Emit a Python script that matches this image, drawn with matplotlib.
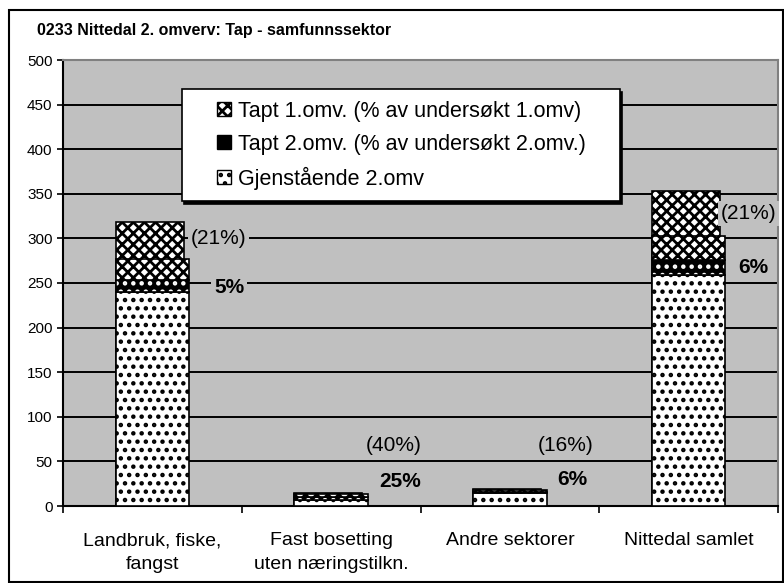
import numpy as np
import matplotlib.pyplot as plt
from matplotlib.patches import Rectangle
from matplotlib.legend_handler import HandlerPatch

# values
categories = ["Landbruk, fiske,\nfangst", "Fast bosetting\nuten næringstilkn.",
              "Andre sektorer", "Nittedal samlet"]
total_1omv = [318, 15, 19, 353]        # undersøkt 1.omv (narrow checkered bar)
gjenstaende = [240, 7, 15, 259]        # Gjenstående 2.omv
tapt2 = [13, 3, 1, 17]                 # Tapt 2.omv
tapt1_rest = [24, 3, 2, 27]            # checkered top of the 2.omv column
pct1 = ["(21%)", "(40%)", "(16%)", "(21%)"]
pct2 = ["5%", "25%", "6%", "6%"]
legend_labels = ["Tapt 1.omv. (% av undersøkt 1.omv)",
                 "Tapt 2.omv. (% av undersøkt 2.omv.)",
                 "Gjenstående 2.omv"]

# label placement (style, not data)
pct1_dx = [0.37, 0.35, 0.31, 0.335]
pct1_y = [300, 68, 68, 328]
pct2_dx = [0.43, 0.385, 0.35, 0.36]
pct2_y = [245, 27, 30, 267]

plt.rcParams['font.family'] = ['Liberation Sans', 'DejaVu Sans']
plt.rcParams['hatch.linewidth'] = 2.0
GREY = "#C0C0C0"

fig = plt.figure(figsize=(7.84, 5.83), dpi=100)
ax = fig.add_axes([63 / 784, 1 - 506 / 583, 715 / 784, 446 / 583])
ax.set_facecolor(GREY)

x = np.arange(len(categories))
left = x - 0.205

# narrow bar: whole 1.omv, checkered
ax.bar(left, total_1omv, width=0.38, align="edge", color="white",
       edgecolor="black", hatch="xxx", lw=1.2, zorder=2)

# wide stack: 2.omv
ax.bar(left, gjenstaende, width=0.41, align="edge", color="white",
       edgecolor="black", hatch="..", lw=1.2, zorder=3)
ax.bar(left, tapt2, bottom=gjenstaende, width=0.41, align="edge", color="black",
       edgecolor="white", hatch="..", lw=0, zorder=3)
ax.bar(left, tapt2, bottom=gjenstaende, width=0.41, align="edge", fill=False,
       edgecolor="black", lw=1.2, zorder=3)
b2 = np.array(gjenstaende) + np.array(tapt2)
ax.bar(left, tapt1_rest, bottom=b2, width=0.41, align="edge", color="white",
       edgecolor="black", hatch="xxx", lw=1.2, zorder=3)

for i in range(len(categories)):
    ax.text(i + pct1_dx[i], pct1_y[i], pct1[i], ha="center", va="center",
            fontsize=15, zorder=5,
            bbox=dict(facecolor=GREY, edgecolor="none", pad=2))
    ax.text(i + pct2_dx[i], pct2_y[i], pct2[i], ha="center", va="center",
            fontsize=15, fontweight="bold", zorder=5,
            bbox=dict(facecolor=GREY, edgecolor="none", pad=2))

ax.set_ylim(0, 500)
ax.set_xlim(-0.5, len(categories) - 0.5)
ax.set_yticks(np.arange(0, 501, 50))
ax.tick_params(axis="y", labelsize=11, length=4, width=1.2, direction="out")
ax.set_xticks(x)
ax.set_xticklabels(categories, fontsize=14, linespacing=1.5)
ax.tick_params(axis="x", length=0, pad=19)
ax.set_xticks(np.arange(-0.5, len(categories), 1), minor=True)
ax.tick_params(axis="x", which="minor", length=5, width=1.2, direction="out")
ax.yaxis.grid(True, color="black", lw=1.4, zorder=1)
ax.set_axisbelow(True)
for s in ["left", "bottom"]:
    ax.spines[s].set_linewidth(1.5)
for s in ["top", "right"]:
    ax.spines[s].set_color("#808080")
    ax.spines[s].set_linewidth(1.5)


def small_square(legend, orig_handle, xdescent, ydescent, width, height, fontsize):
    return Rectangle((-xdescent + width - height, -ydescent), height, height)


h1 = Rectangle((0, 0), 1, 1, facecolor="white", edgecolor="black", hatch="xxx")
h2 = Rectangle((0, 0), 1, 1, facecolor="black", edgecolor="black")
h3 = Rectangle((0, 0), 1, 1, facecolor="white", edgecolor="black", hatch="..")
leg = ax.legend([h1, h2, h3], legend_labels,
                handler_map={Rectangle: HandlerPatch(patch_func=small_square)},
                loc="upper left", bbox_to_anchor=(0.166, 0.935 - 0.3, 0.6126, 0.3),
                mode="expand", borderaxespad=0,
                fontsize=15.5, handlelength=1.75, handleheight=0.65,
                handletextpad=0.3, labelspacing=0.55, borderpad=0.55,
                fancybox=False, framealpha=1, edgecolor="black",
                shadow={"color": "black", "alpha": 1})
leg.get_frame().set_linewidth(1.2)
leg.set_zorder(6)

fig.text(37 / 784, 1 - 30 / 583, "0233 Nittedal 2. omverv: Tap - samfunnssektor",
         fontsize=11.5, fontweight="bold", va="center", ha="left")

fig.patches.append(Rectangle((9 / 784, 1 / 583), 774 / 784, 572 / 583,
                             transform=fig.transFigure, fill=False,
                             edgecolor="black", lw=1.5))

fig.savefig("out.png", dpi=100)
